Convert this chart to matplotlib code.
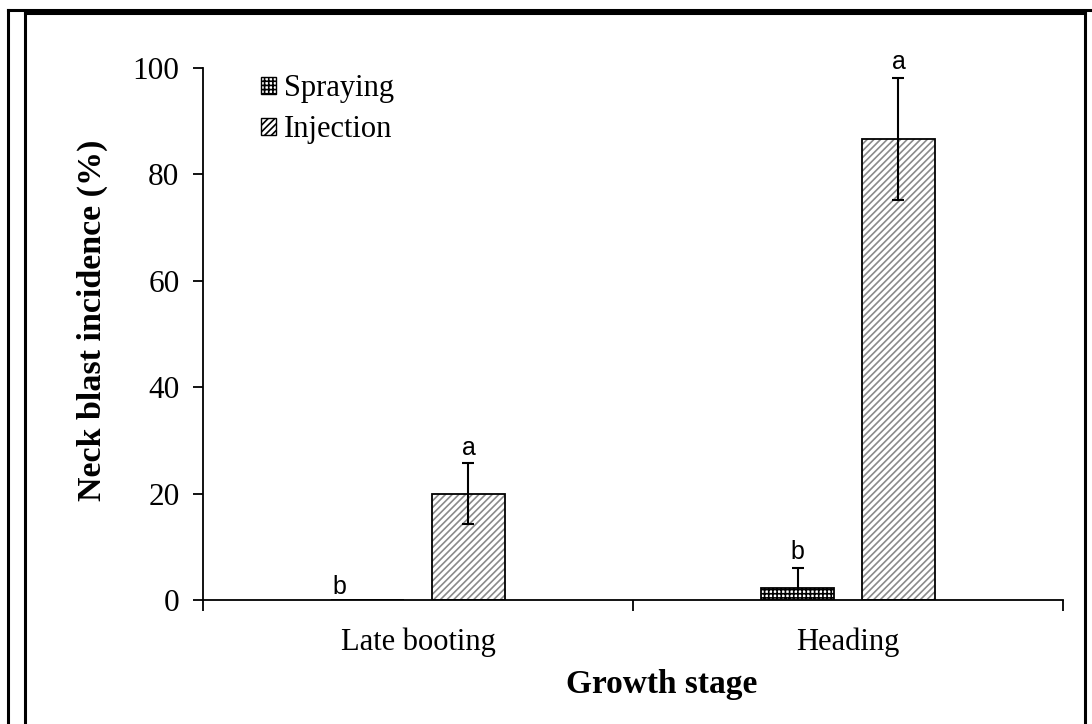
import matplotlib
matplotlib.use("Agg")
import matplotlib.pyplot as plt
import numpy as np
from matplotlib.patches import Patch
from matplotlib.lines import Line2D

# data
stages = ["Late booting", "Heading"]
spraying = [0.0, 2.2]
spraying_err = [0.0, 3.8]
injection = [20.0, 86.7]
injection_err = [5.8, 11.5]
letters_spray = ["b", "b"]
letters_inj = ["a", "a"]

plt.rcParams['font.family'] = ['Liberation Serif', 'DejaVu Serif']
plt.rcParams['hatch.linewidth'] = 1.2

W, H = 1092, 724
fig = plt.figure(figsize=(W / 100, H / 100), dpi=100)
ax = fig.add_axes([203 / W, 1 - 600 / H, 860 / W, 532 / H])

x = np.arange(len(stages))
bw = 0.172
off = 0.1174

# spraying: fine grid hatch
ax.bar(x - off, spraying, bw, color="white", edgecolor="black", linewidth=1.3,
       hatch="++++", zorder=2)
# injection: grey diagonal hatch with a black outline
ax.bar(x + off, injection, bw, color="white", edgecolor="#8a8a8a", linewidth=0,
       hatch="/////", zorder=2)
ax.bar(x + off, injection, bw, color="none", edgecolor="black", linewidth=1.3, zorder=3)

ax.errorbar(x[1:] - off, spraying[1:], yerr=spraying_err[1:], fmt="none", ecolor="black",
            elinewidth=1.5, capsize=4, capthick=1.5, zorder=1)
ax.errorbar(x + off, injection, yerr=injection_err, fmt="none", ecolor="black",
            elinewidth=1.5, capsize=4, capthick=1.5, zorder=4)

# significance letters
lfont = dict(family=["Liberation Sans", "DejaVu Sans"], fontsize=18, ha="center", va="bottom")
ax.text(x[0] - off - 0.065, 0.1, letters_spray[0], **lfont)
ax.text(x[1] - off, spraying[1] + spraying_err[1] + 0.8, letters_spray[1], **lfont)
for i in range(len(stages)):
    ax.text(x[i] + off, injection[i] + injection_err[i] + 0.6, letters_inj[i], **lfont)

ax.set_xlim(-0.5, 1.5)
ax.set_ylim(0, 100)
ax.set_yticks(np.arange(0, 101, 20))
ax.set_xticks(x)
ax.set_xticks([-0.5, 0.5, 1.5], minor=True)
ax.set_xticklabels(stages, fontsize=22)
ax.tick_params(axis="x", which="major", length=0, pad=20)
ax.tick_params(axis="x", which="minor", length=8, width=1.3, direction="out")
ax.tick_params(axis="y", labelsize=22.5, length=7, width=1.3, direction="out", pad=10)
for s in ["top", "right"]:
    ax.spines[s].set_visible(False)
ax.spines["left"].set_linewidth(1.3)
ax.spines["bottom"].set_linewidth(1.3)

# axis titles
fig.text(92 / W, 1 - 320 / H, "Neck blast incidence (%)", fontsize=24.5, fontweight="bold",
         rotation=90, ha="center", va="center")
fig.text(662 / W, 1 - 685 / H, "Growth stage", fontsize=24, fontweight="bold",
         ha="center", va="center")

handles = [Patch(facecolor="white", edgecolor="black", hatch="++++", label="Spraying"),
           Patch(facecolor="white", edgecolor="black", hatch="/////", label="Injection")]
ax.legend(handles=handles, loc="upper left", bbox_to_anchor=(0.035, 1.04), frameon=False,
          fontsize=22, handlelength=0.5, handleheight=0.5, handletextpad=0.25,
          labelspacing=0.4, borderaxespad=0.5)

# page frames around the chart
def fline(x0, y0, x1, y1):
    fig.add_artist(Line2D([x0 / W, x1 / W], [1 - y0 / H, 1 - y1 / H],
                          transform=fig.transFigure, color="black", linewidth=2.2))

fline(8, 10, 8, H)
fline(8, 10, W, 10)
fline(25, 13, 25, H)
fline(25, 13, 1085, 13)
fline(1085, 13, 1085, H)

fig.savefig("out.png", dpi=100)
